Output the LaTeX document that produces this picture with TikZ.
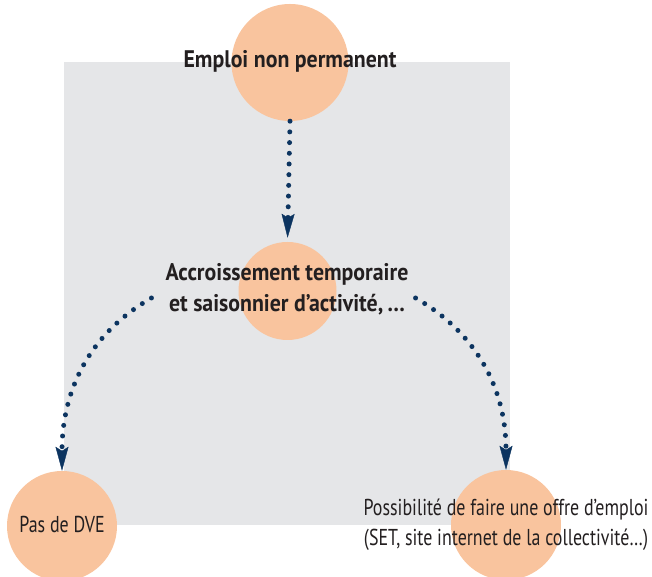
\documentclass[tikz,border=0pt]{standalone}
\usepackage{fontspec}
\setmainfont{PT Sans}[FakeStretch=0.78]
\newfontfamily\headfont{PT Sans}[FakeStretch=0.91]
\usetikzlibrary{arrows.meta}
\definecolor{peach}{RGB}{249,196,158}
\definecolor{panel}{RGB}{229,230,232}
\definecolor{navy}{RGB}{12,52,96}
\definecolor{ink}{RGB}{35,31,32}

\begin{document}
\begin{tikzpicture}[
    x=1pt, y=1pt,
    bubble/.style={circle, fill=peach, inner sep=0pt},
    title/.style={font=\headfont\fontsize{24}{31}\selectfont\bfseries, text=ink, align=center, inner sep=0pt},
    plain/.style={font=\fontsize{23}{30}\selectfont, text=ink, align=center, inner sep=0pt},
    flow/.style={navy, line width=5pt, line cap=round, dash pattern=on 0pt off 10.7pt,
        -{Stealth[length=24pt, width=13pt, inset=4pt, line width=0.4pt]}}]

\useasboundingbox (0,0) rectangle (652,577);

% Grey panel
\fill[panel] (64,52) rectangle (510,515);

% Circles
\node[bubble, minimum size=117pt] (emploi) at (290,514.5) {};
\node[bubble, minimum size=98pt] (accr) at (287.5,286) {};
\node[bubble, minimum size=110pt] (pas) at (62,51) {};
\node[bubble, minimum size=110pt] (offre) at (506,52) {};

% Texts
\node[title, anchor=base] (emploitxt) at (290,509) {Emploi non permanent};
\node[title] (accrtxt) at (287,288) {Accroissement temporaire\\et saisonnier d’activité,\,\dots};
\node[plain, anchor=base] (pastxt) at (62,44) {Pas de DVE};
\node[plain] (offretxt) at (506,52) {Possibilité de faire une offre d’emploi\\(SET, site internet de la collectivité\dots)};

% Arrows
\draw[flow, shorten >=4pt] (emploi.south) -- (accr.north);
\draw[flow] ([xshift=-14pt, yshift=-9pt]accrtxt.west) to[out=210, in=90] (pas.north);
\draw[flow] ([xshift=7pt, yshift=-9pt]accrtxt.east) to[out=-30, in=90] (offre.north);

\end{tikzpicture}
\end{document}
